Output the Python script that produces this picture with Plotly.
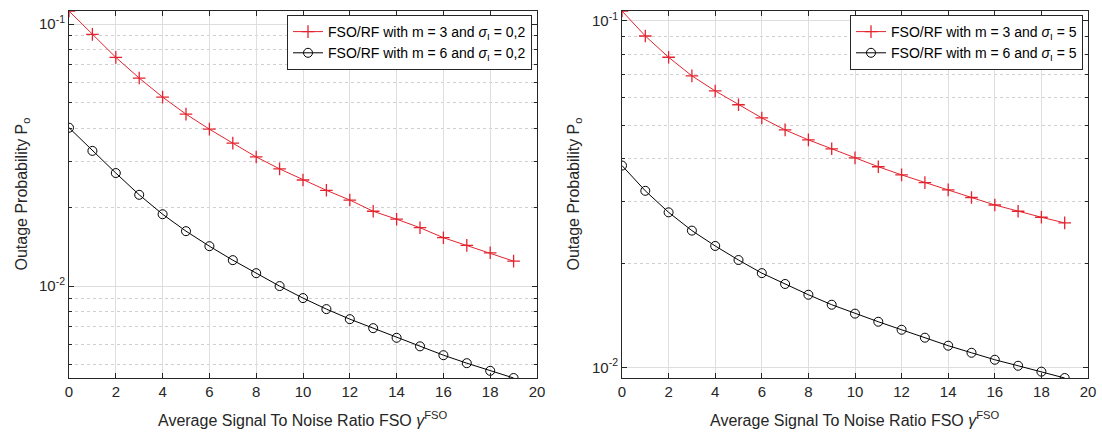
import numpy as np
import plotly.graph_objects as go

# ---------------- data ----------------
snr = list(range(0, 20))

left_m3 = [0.1121, 0.0913, 0.0746, 0.0622, 0.0526, 0.0453, 0.0397, 0.0351, 0.0311, 0.0280,
           0.0254, 0.0232, 0.0213, 0.0193, 0.0180, 0.0167, 0.0153, 0.0143, 0.0134, 0.01245]
left_m6 = [0.0402, 0.0328, 0.0270, 0.0223, 0.0188, 0.0162, 0.0142, 0.01256, 0.0112, 0.0100,
           0.0090, 0.00817, 0.00748, 0.00691, 0.00635, 0.00589, 0.00545, 0.00508, 0.00475, 0.00446]

right_m3 = [0.1066, 0.0903, 0.0784, 0.0693, 0.0627, 0.0572, 0.0524, 0.0484, 0.0453, 0.0427,
            0.0402, 0.0379, 0.0359, 0.0341, 0.0325, 0.0309, 0.0294, 0.0282, 0.0271, 0.0261]
right_m6 = [0.0382, 0.0323, 0.0280, 0.0248, 0.0224, 0.0204, 0.0187, 0.0174, 0.0162, 0.01516,
            0.01429, 0.01354, 0.01284, 0.01218, 0.01155, 0.01102, 0.01052, 0.01011, 0.00972, 0.00932]

left_names = ["FSO/RF with m = 3 and <i>σ</i><sub>I</sub> = 0,2",
              "FSO/RF with m = 6 and <i>σ</i><sub>I</sub> = 0,2"]
right_names = ["FSO/RF with m = 3 and <i>σ</i><sub>I</sub> = 5",
               "FSO/RF with m = 6 and <i>σ</i><sub>I</sub> = 5"]

x_ticks = list(range(0, 21, 2))
y_major = [0.01, 0.1]
y_major_text = ["10<sup>-2</sup>", "10<sup>-1</sup>"]
y_minor = [k * 0.001 for k in range(2, 10)] + [k * 0.01 for k in range(2, 10)]

x_title = "Average Signal To Noise Ratio FSO <i>γ</i><sup>FSO</sup>"
y_title = "Outage Probability P<sub>o</sub>"

# ---------------- styles ----------------
RED = "#e3242f"
BLACK = "#000000"
AX = "#262626"
FONT = "Liberation Sans, Arial, sans-serif"

fig = go.Figure()

def add_pair(m3, m6, names, xa, ya, leg):
    fig.add_trace(go.Scatter(x=snr, y=m3, name=names[0], mode="lines+markers",
                             line=dict(color=RED, width=1),
                             marker=dict(symbol="cross-thin", size=9,
                                         line=dict(color=RED, width=1.3)),
                             xaxis=xa, yaxis=ya, legend=leg))
    fig.add_trace(go.Scatter(x=snr, y=m6, name=names[1], mode="lines+markers",
                             line=dict(color=BLACK, width=1),
                             marker=dict(symbol="circle-open", size=9,
                                         line=dict(color=BLACK, width=1)),
                             xaxis=xa, yaxis=ya, legend=leg))

add_pair(left_m3, left_m6, left_names, "x", "y", "legend")
add_pair(right_m3, right_m6, right_names, "x2", "y2", "legend2")

W, H = 1102, 434
ydom = [1 - 378 / H, 1 - 11 / H]
xdom1 = [69 / W, 537 / W]
xdom2 = [622 / W, 1088 / W]

def xaxis(dom, anchor):
    return dict(domain=dom, anchor=anchor, range=[0, 20], tickvals=x_ticks,
                showline=True, linecolor=AX, linewidth=1, mirror="allticks",
                ticks="inside", ticklen=5, tickcolor=AX, tickwidth=1,
                showgrid=True, gridcolor="#dedede", gridwidth=1, zeroline=False,
                tickfont=dict(family=FONT, size=15, color=AX), automargin=False)

def yaxis(dom, anchor, lo, hi):
    return dict(domain=dom, anchor=anchor, type="log",
                range=[np.log10(min(lo)), np.log10(max(hi))],
                tickvals=y_major, ticktext=y_major_text,
                showline=True, linecolor=AX, linewidth=1, mirror="allticks",
                ticks="inside", ticklen=5, tickcolor=AX, tickwidth=1,
                showgrid=True, gridcolor="#dedede", gridwidth=1, zeroline=False,
                minor=dict(tickvals=y_minor, ticks="inside", ticklen=3, tickcolor=AX,
                           showgrid=True, gridcolor="#cfcfcf", griddash="dot", gridwidth=1),
                tickfont=dict(family=FONT, size=15, color=AX), automargin=False)

leg_common = dict(bgcolor="white", bordercolor=AX, borderwidth=1,
                  font=dict(family=FONT, size=14, color="#000000"),
                  xanchor="right", yanchor="top", tracegroupgap=0, itemwidth=30)

fig.update_layout(
    width=W, height=H, margin=dict(l=0, r=0, t=0, b=0),
    paper_bgcolor="white", plot_bgcolor="white",
    xaxis=xaxis(xdom1, "y"), yaxis=yaxis(ydom, "x", left_m6, left_m3),
    xaxis2=xaxis(xdom2, "y2"), yaxis2=yaxis(ydom, "x2", right_m6, right_m3),
    legend=dict(x=532 / W, y=1 - 15 / H, **leg_common),
    legend2=dict(x=1083 / W, y=1 - 15 / H, **leg_common),
    showlegend=True,
)

title_font = dict(family=FONT, size=16, color=AX)
for dom in (xdom1, xdom2):
    fig.add_annotation(text=x_title, xref="paper", yref="paper",
                       x=(dom[0] + dom[1]) / 2, y=1 - 431 / H, xanchor="center", yanchor="bottom",
                       showarrow=False, font=title_font)
for xp in (22 / W, 574 / W):
    fig.add_annotation(text=y_title, xref="paper", yref="paper", textangle=-90,
                       x=xp, y=(ydom[0] + ydom[1]) / 2, xanchor="center", yanchor="middle",
                       showarrow=False, font=title_font)

fig.write_html("out.html", config={"displayModeBar": False},
               post_script="document.body.style.margin='0px';document.body.style.overflow='hidden';")
